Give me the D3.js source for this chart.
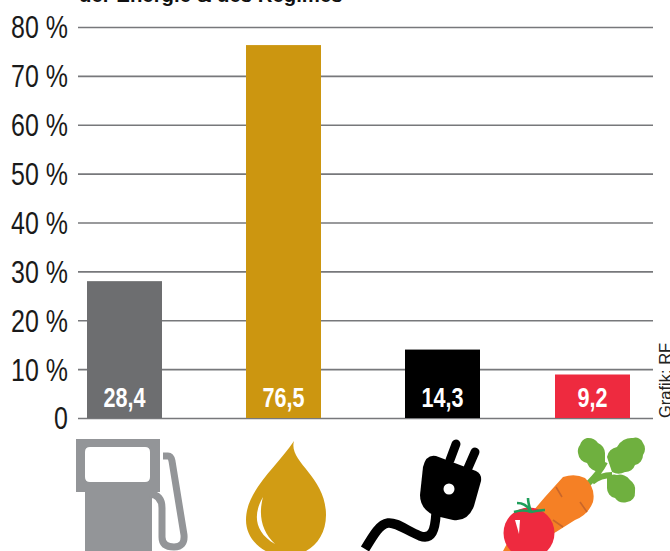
<!DOCTYPE html>
<html>
<head>
<meta charset="utf-8">
<script src="https://cdn.jsdelivr.net/npm/d3@7"></script>
<style>
html, body { margin: 0; padding: 0; background: #fff; }
svg { display: block; }
text { font-family: "Liberation Sans", sans-serif; }
</style>
</head>
<body>
<div id="chart"></div>
<script>
const categories = ["Benzin", "Öl", "Strom", "Gemüse"];
const barValues = [28, 76.3, 14, 8.9];
const barLabels = ["28,4", "76,5", "14,3", "9,2"];
const barColors = ["#6d6e70", "#cc9610", "#000000", "#ee2a3f"];
const tickValues = [0, 10, 20, 30, 40, 50, 60, 70, 80];

const width = 670, height = 551;

const svg = d3.select("#chart").append("svg")
    .attr("width", width)
    .attr("height", height);

const y = d3.scaleLinear().domain([0, 80]).range([418, 27]);
// the bars are not evenly spaced in the original
const x = d3.scaleOrdinal().domain(categories).range([87, 246, 405, 555]);
const barWidth = 75;

/* cut off title line at the top */
svg.append("text")
    .attr("transform", "translate(79,1.5) scale(0.97,1)")
    .attr("font-size", "21px")
    .attr("font-weight", "bold")
    .attr("fill", "#111")
    .text("der Energie & des Regimes");

// axis with the gridlines as ticks
const yAxis = d3.axisLeft(y)
    .tickValues(tickValues)
    .tickSize(-(653 - 78))
    .tickFormat(d => d === 0 ? "0" : d + " %");

const axisG = svg.append("g")
    .attr("transform", "translate(78,0)")
    .call(yAxis);

axisG.select(".domain").remove();
axisG.selectAll(".tick line")
    .attr("stroke", "#77787b")
    .attr("stroke-width", 1.6);
// no condensed font here, so squeeze the labels sideways
axisG.selectAll(".tick text")
    .attr("x", 0)
    .attr("dy", "0.34em")
    .attr("transform", "translate(-10,0) scale(0.78,1)")
    .attr("font-size", "32px")
    .attr("fill", "#1a1a1a");

svg.selectAll(".bar")
    .data(categories)
    .enter()
    .append("rect")
    .attr("class", "bar")
    .attr("x", d => x(d))
    .attr("y", (d, i) => y(barValues[i]))
    .attr("width", barWidth)
    .attr("height", (d, i) => y(0) - y(barValues[i]))
    .attr("fill", (d, i) => barColors[i]);

svg.selectAll(".barlabel")
    .data(categories)
    .enter()
    .append("text")
    .attr("class", "barlabel")
    .attr("transform", d => `translate(${x(d) + barWidth / 2},407) scale(0.8,1)`)
    .attr("text-anchor", "middle")
    .attr("font-size", "27px")
    .attr("font-weight", "bold")
    .attr("fill", "#fff")
    .text((d, i) => barLabels[i]);

// credit, runs off the right edge
svg.append("text")
    .attr("transform", "translate(670.5,418) rotate(-90)")
    .attr("font-size", "16.5px")
    .attr("fill", "#222")
    .text("Grafik: RF");

/* icons */
// petrol pump
const pump = svg.append("g");
pump.append("path")
    .attr("fill", "#939598")
    .attr("fill-rule", "evenodd")
    .attr("d", "M76,439 H160 V492 H152 V551 H85 V492 H76 Z M90,447 Q85,447 85,452 V477 Q85,482 90,482 H145 Q150,482 150,477 V452 Q150,447 145,447 Z");
pump.append("path")
    .attr("fill", "none")
    .attr("stroke", "#939598")
    .attr("stroke-width", 7)
    .attr("d", "M163,456 H168 Q171,456 172,461 L184,535 Q185,547 174,547 Q162,547 162,537 V508 Q162,495 150,494");

// oil drop
const drop = svg.append("g");
drop.append("path")
    .attr("fill", "#d19c14")
    .attr("d", "M294,441 C288,462 326,476 326,515 C326,540 308,556 286,556 C264,556 246,540 246,520 C246,490 276,468 294,441 Z");
drop.append("path")
    .attr("fill", "#fff")
    .attr("d", "M263,497 C253,514 254,532 275,544 C262,532 258,516 263,497 Z");

// plug
const plug = svg.append("g");
plug.append("path")
    .attr("fill", "none")
    .attr("stroke", "#000")
    .attr("stroke-width", 9)
    .attr("stroke-linecap", "round")
    .attr("d", "M450,460 L456,444 M468,468 L475,452");
plug.append("path")
    .attr("fill", "#000")
    .attr("d", "M436,456 L476,471 Q482,474 481,481 L474,506 Q468,522 453,520 L436,516 Q420,510 420,495 L423,467 Q426,454 436,456 Z");
plug.append("path")
    .attr("fill", "none")
    .attr("stroke", "#000")
    .attr("stroke-width", 9.5)
    .attr("d", "M436,514 C435,530 432,540 420,536 C406,530 396,522 388,523 C380,524 374,534 365,549");
plug.append("circle")
    .attr("cx", 449).attr("cy", 489).attr("r", 5.5).attr("fill", "#fff");

// carrot and tomato
const veg = svg.append("g");
veg.append("path")
    .attr("fill", "none")
    .attr("stroke", "#6fb03f")
    .attr("stroke-width", 6)
    .attr("d", "M588,484 C594,478 600,472 605,462 M592,482 C598,477 604,475 612,475");
veg.append("path")
    .attr("fill", "#6fb03f")
    .attr("d", "M605,453 A12,12 0 0 0 598,443 A12,12 0 0 0 587,438 A10,10 0 0 0 580,445 A10,10 0 0 0 578,453 A12,12 0 0 0 587,463 A14,14 0 0 0 600,472 A10,10 0 0 0 605,463 Z");
veg.append("path")
    .attr("fill", "#6fb03f")
    .attr("d", "M607,457 A12,12 0 0 1 617,447 A16,16 0 0 1 633,438 A8,8 0 0 1 643,443 A10,10 0 0 1 643,455 A10,10 0 0 1 635,465 A10,10 0 0 1 625,472 A14,14 0 0 1 612,472 Z");
veg.append("path")
    .attr("fill", "#6fb03f")
    .attr("d", "M607,478 A10,10 0 0 1 617,475 A12,12 0 0 1 630,480 A12,12 0 0 1 635,492 A9,9 0 0 1 627,502 A11,11 0 0 1 615,498 A10,10 0 0 1 607,488 Z");
veg.append("path")
    .attr("fill", "#f58025")
    .attr("d", "M563,477 Q575,473 585,478 Q596,488 593,502 Q588,515 575,520 L556,532 L520,551 H503 L510,538 L545,497 Z");
veg.append("path")
    .attr("fill", "none")
    .attr("stroke", "#c9662a")
    .attr("stroke-width", 1.6)
    .attr("d", "M556,487 L562,497 M580,502 L587,512 M553,520 L563,527");
veg.append("circle")
    .attr("cx", 529).attr("cy", 533).attr("r", 25.5).attr("fill", "#ee2a3f");
veg.append("path")
    .attr("fill", "none")
    .attr("stroke", "#1f9e5a")
    .attr("stroke-width", 2.6)
    .attr("d", "M514,512 C520,510 526,510 531,512 M531,512 C529,506 528,502 528,498 M531,512 C536,511 541,510 545,510 M517,503 C523,503 528,506 531,512");
veg.append("path")
    .attr("fill", "#fff")
    .attr("d", "M515,520 L520,520 L519,534 Z");

</script>
</body>
</html>
